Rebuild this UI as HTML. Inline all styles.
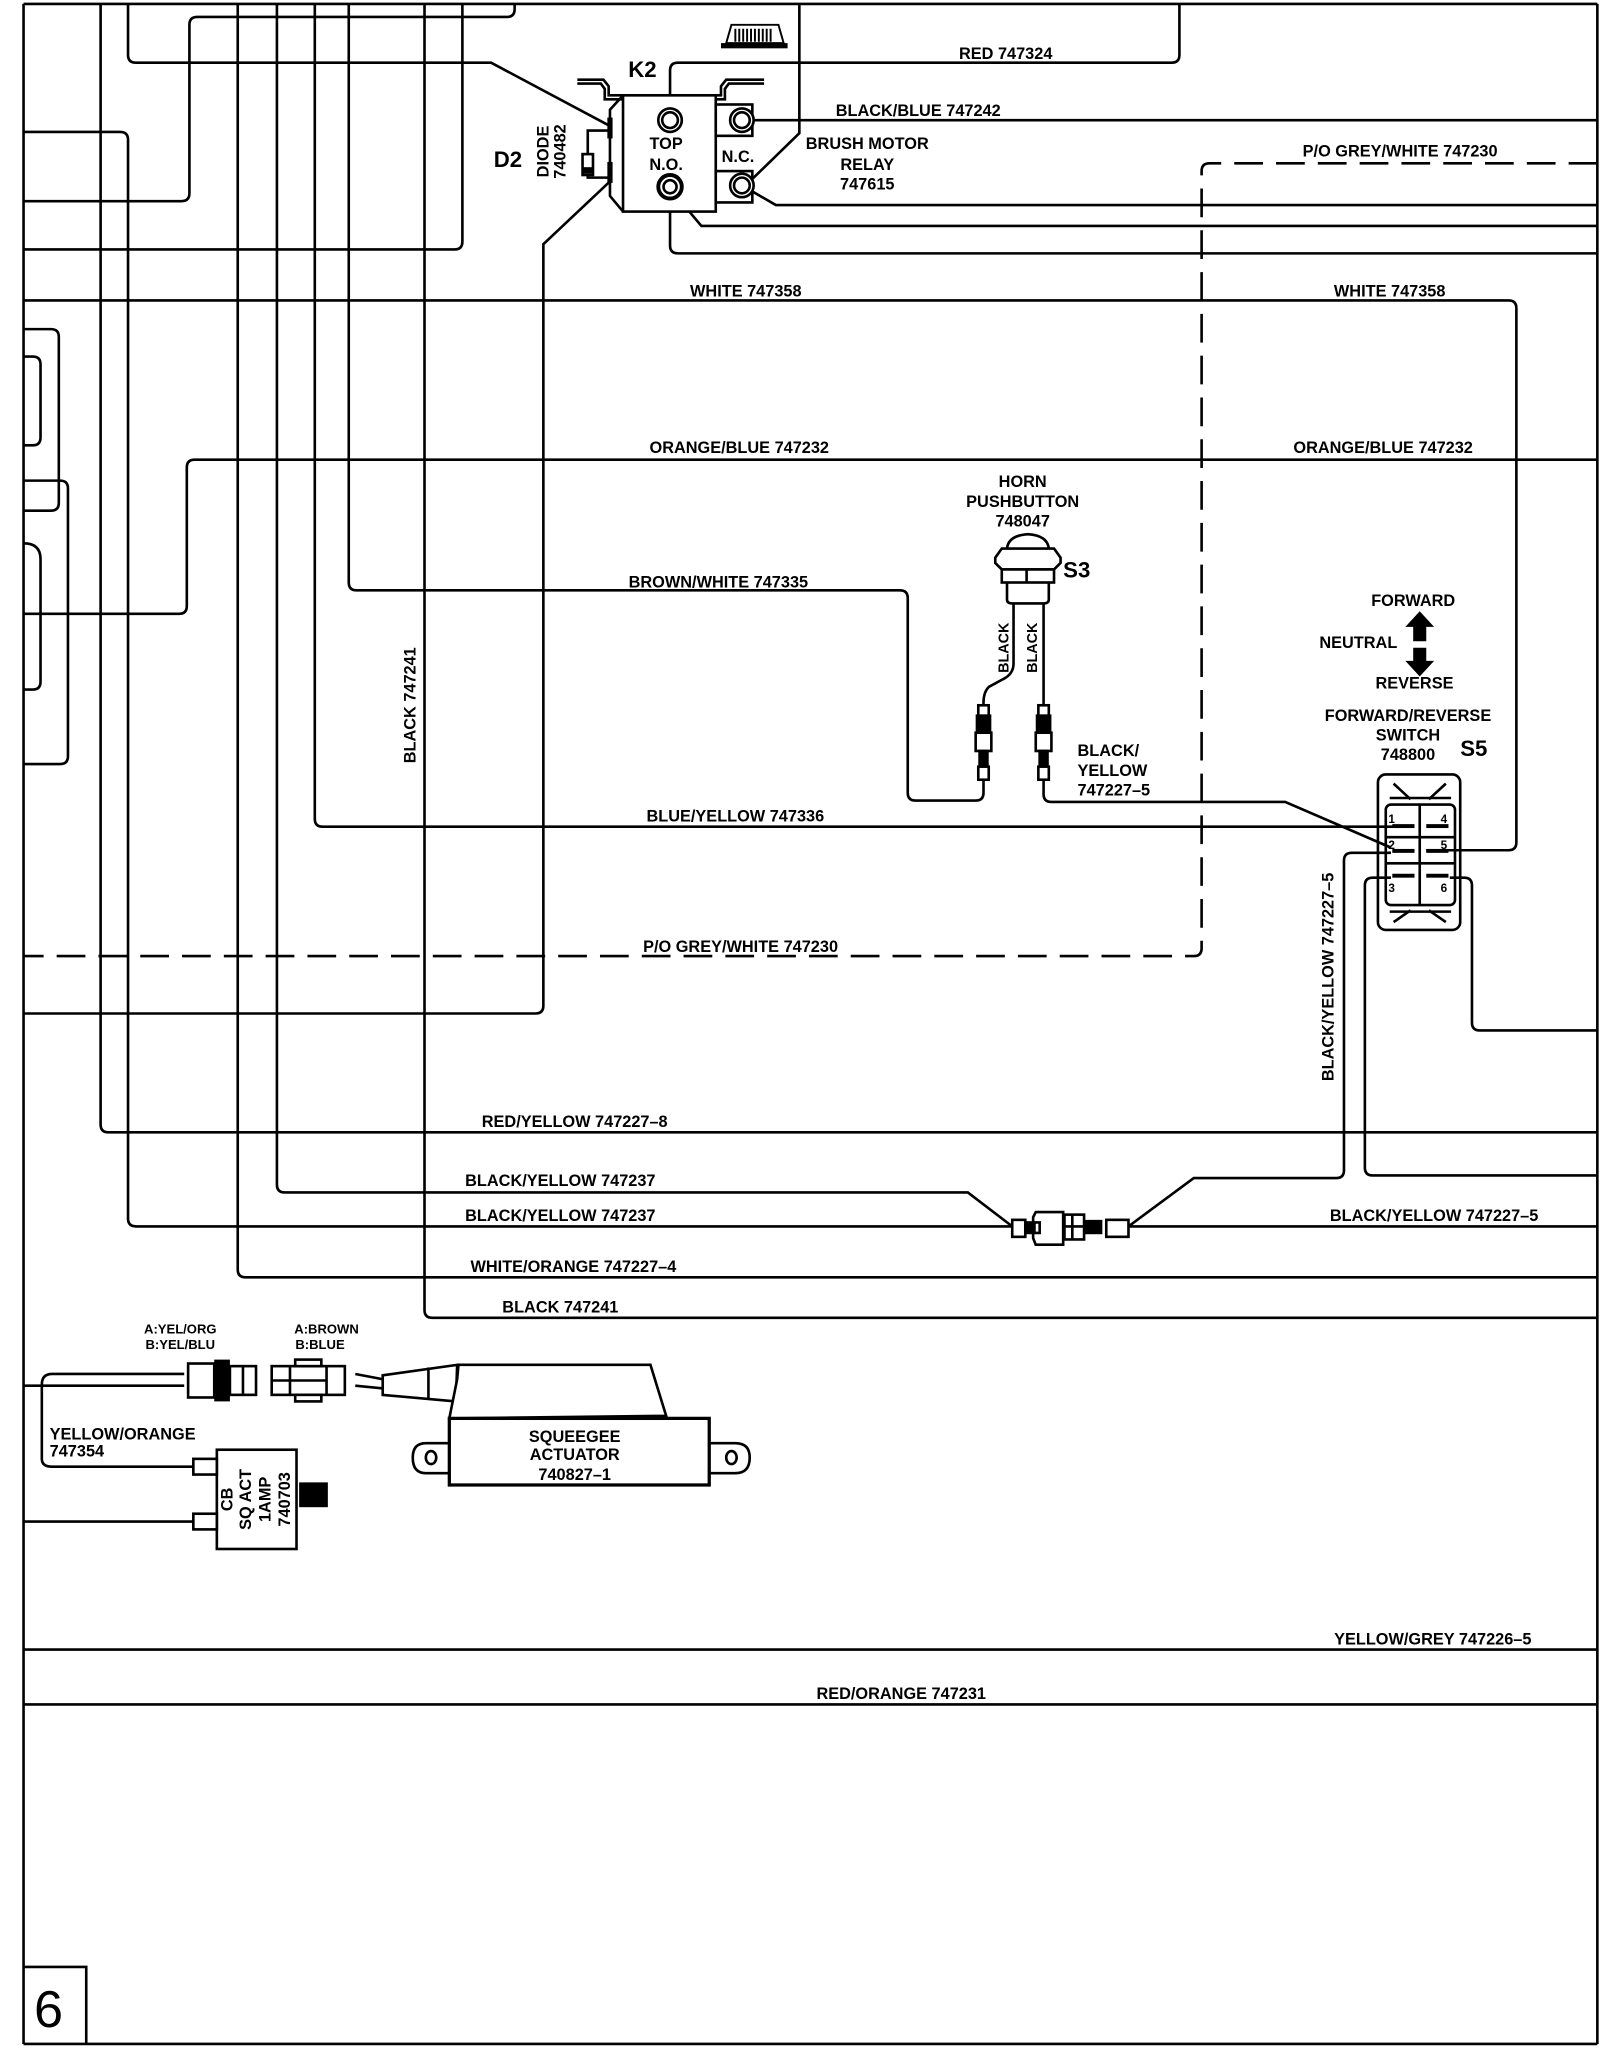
<!DOCTYPE html>
<html><head><meta charset="utf-8"><style>
html,body{margin:0;padding:0;background:#fff}
svg{display:block}
.w{fill:none;stroke:#000;stroke-width:2}
.t{font-family:"Liberation Sans Narrow","Liberation Sans",sans-serif;font-weight:bold;font-size:12.5px;fill:#000}
.m{text-anchor:middle}
.big{font-family:"Liberation Sans",sans-serif;font-weight:bold;font-size:17px}
</style></head><body>
<svg width="1600" height="2059" viewBox="0 0 1225 1576.5" xmlns="http://www.w3.org/2000/svg">
<rect width="1225" height="1577" fill="#fff"/>
<g class="w">
<path d="M18,3 H1223 M18,3 V1565 M1223,3 V1565 M18,1565 H1223"/>
<path d="M18,1506 H66 V1565"/>
<path d="M77,3 V861 Q77,867 83,867 H1223"/>
<path d="M98,3 V42 Q98,48 104,48 H376 L468,97"/>
<path d="M18,101 H92 Q98,101 98,107 V933 Q98,939 104,939 H775"/>
<path d="M18,154 H139 Q145,154 145,148 V19 Q145,13 151,13 H388 Q394,13 394,7 V3"/>
<path d="M182,3 V972 Q182,978 188,978 H1223"/>
<path d="M212,3 V907 Q212,913 218,913 H741 L775,939"/>
<path d="M241,3 V627 Q241,633 247,633 H1067"/>
<path d="M267,3 V446 Q267,452 273,452 H689 Q695,452 695,458 V607 Q695,613 701,613 H747 Q753,613 753,607 V597"/>
<path d="M325,3 V1003 Q325,1009 331,1009 H1223"/>
<path d="M354,3 V185 Q354,191 348,191 H18"/>
<path d="M468,138 L416,187 V770 Q416,776 410,776 H18"/>
<path d="M513,83 V54 Q513,48 519,48 H897 Q903,48 903,42 V3"/>
<path d="M577,92 H1223"/>
<path d="M612,3 V102 L575,138"/>
<path d="M575,146 L594,157 H1223"/>
<path d="M516,148 L537,173 H1223"/>
<path d="M513,150 V188 Q513,194 519,194 H1223"/>
<path d="M1223,125 H926 Q920,125 920,131 V726 Q920,732 914,732 H18" stroke-dasharray="22,10"/>
<path d="M18,230 H1155 Q1161,230 1161,236 V645 Q1161,651 1155,651 H1092"/>
<path d="M1223,352 H149 Q143,352 143,358 V464 Q143,470 137,470 H18"/>
<path d="M18,252 H39 Q45,252 45,258 V385 Q45,391 39,391 H18"/>
<path d="M18,273 H25 Q31,273 31,279 V335 Q31,341 25,341 H18"/>
<path d="M18,368 H46 Q52,368 52,374 V579 Q52,585 46,585 H18"/>
<path d="M18,416 Q31,416 31,428 V522 Q31,528 25,528 H18"/>
<path d="M799,597 V608 Q799,614 805,614 H984 L1065,649"/>
<path d="M1065,653 H1035 Q1029,653 1029,659 V896 Q1029,902 1023,902 H914 L864,939 H1223"/>
<path d="M1065,672 H1051 Q1045,672 1045,678 V894 Q1045,900 1051,900 H1223"/>
<path d="M1110,672 H1121 Q1127,672 1127,678 V783 Q1127,789 1133,789 H1223"/>
<path d="M18,1263 H1223 M18,1305 H1223"/>
<path d="M18,1061 H141"/>
<path d="M141,1052 H40 Q32,1052 32,1060 V1117 Q32,1123 40,1123 H148"/>
<path d="M18,1165 H148"/>
<path d="M776,462 V508 Q776,516 768,520 L757,526 Q753,530 753,538 V540"/>
<path d="M799,462 V540"/>
</g>
<!-- Relay K2 -->
<g class="w" stroke-width="1.6">
<path d="M442,61 H462 L466,66 V73 H552 V66 L556,61 H585"/>
<path d="M442,64 H460 L463,68 V76 H555 V68 L558,64 H585"/>
<rect x="477" y="73" width="71" height="89" fill="#fff"/>
<path d="M477,73 L467,84 V150 L477,162"/>
<path d="M467,100 H450 V136 H467"/>
<rect x="446" y="118" width="8" height="16" fill="#fff"/>
<rect x="548" y="80" width="28" height="24" fill="#fff"/>
<rect x="548" y="131" width="28" height="24" fill="#fff"/>
<circle cx="513" cy="92" r="9" fill="#fff"/><circle cx="513" cy="92" r="6"/>
<circle cx="513" cy="143" r="9" stroke-width="3" fill="#fff"/><circle cx="513" cy="143" r="5"/>
<circle cx="568" cy="92" r="9" fill="#fff"/><circle cx="568" cy="92" r="6"/>
<circle cx="568" cy="142" r="9" fill="#fff"/><circle cx="568" cy="142" r="6"/>
</g>
<rect x="446" y="128" width="8" height="5" fill="#000"/>
<rect x="465" y="90" width="4" height="16" fill="#000"/>
<rect x="465" y="124" width="4" height="16" fill="#000"/>
<!-- brush icon -->
<g>
<rect x="552" y="33" width="51" height="4" fill="#000"/>
<path d="M556,33 L560,19 H596 L600,33 Z" fill="#fff" stroke="#000" stroke-width="1.5"/>
<path d="M563,22 V32 M566,22 V32 M569,22 V32 M572,22 V32 M575,22 V32 M578,22 V32 M581,22 V32 M584,22 V32 M587,22 V32 M590,22 V32" stroke="#000" stroke-width="1.5"/>
</g>
<!-- horn pushbutton -->
<g class="w" stroke-width="1.6">
<path d="M771,420 Q772,410 787,409 Q802,410 803,420"/>
<path d="M767,420 H807 L812,427 V431 L807,436 H767 L762,431 V427 Z" fill="#fff"/>
<rect x="767" y="436" width="40" height="10" fill="#fff"/>
<path d="M786,436 V446"/>
<path d="M771,446 V459 Q771,462 775,462 H799 Q803,462 803,459 V446"/>
<g transform="translate(753,0)"><rect x="-4" y="540" width="8" height="8" fill="#fff"/><rect x="-5" y="548" width="10" height="13" fill="#000"/><rect x="-6" y="561" width="12" height="14" fill="#fff"/><rect x="-3" y="575" width="6" height="12" fill="#000"/><rect x="-4" y="587" width="8" height="10" fill="#fff"/></g>
<g transform="translate(799,0)"><rect x="-4" y="540" width="8" height="8" fill="#fff"/><rect x="-5" y="548" width="10" height="13" fill="#000"/><rect x="-6" y="561" width="12" height="14" fill="#fff"/><rect x="-3" y="575" width="6" height="12" fill="#000"/><rect x="-4" y="587" width="8" height="10" fill="#fff"/></g>
</g>
<!-- switch S5 -->
<g class="w" stroke-width="1.6">
<rect x="1055" y="593" width="63" height="119" rx="6"/>
<rect x="1061" y="616" width="53" height="77" rx="4"/>
<path d="M1064,611 H1111 M1064,698 H1111"/>
<path d="M1087,616 V693 M1061,641 H1114 M1061,661 H1114"/>
<path d="M1067,600 L1080,612 M1107,600 L1094,612 M1067,706 L1080,697 M1107,706 L1094,697"/>
</g>
<g fill="#000">
<rect x="1066" y="631" width="17" height="3"/><rect x="1092" y="631" width="17" height="3"/>
<rect x="1066" y="650" width="17" height="3"/><rect x="1092" y="650" width="17" height="3"/>
<rect x="1066" y="669" width="17" height="3"/><rect x="1092" y="669" width="17" height="3"/>
<path d="M1087,468 L1098,480 H1092 V491 H1082 V480 H1076 Z"/>
<path d="M1082,496 H1092 V506 H1098 L1087,518 L1076,506 H1082 Z"/>
</g>
<!-- connector center -->
<g class="w" stroke-width="1.5">
<rect x="775" y="934" width="10" height="13" fill="#fff"/>
<rect x="785" y="936" width="7" height="8" fill="#000"/>
<path d="M793,928 H814 V953 H793 L791,948 V944 L796,944 V936 L791,936 V932 Z" fill="#fff"/>
<rect x="815" y="930" width="15" height="19" fill="#fff"/>
<path d="M821,930 V949 M815,939 H830"/>
<rect x="831" y="935" width="12" height="9" fill="#000"/>
<rect x="847" y="934" width="17" height="13" fill="#fff"/>
</g>
<!-- squeegee section -->
<g class="w" stroke-width="1.6">
<rect x="144" y="1044" width="20" height="26" fill="#fff"/>
<rect x="165" y="1042" width="10" height="30" fill="#000"/>
<rect x="176" y="1046" width="20" height="22" fill="#fff"/>
<path d="M186,1046 V1068"/>
<rect x="208" y="1046" width="56" height="22" fill="#fff"/>
<path d="M222,1046 V1068 M208,1057 H250 M250,1046 V1068"/>
<rect x="226" y="1041" width="20" height="5" fill="#fff"/><rect x="226" y="1068" width="20" height="5" fill="#fff"/>
<path d="M272,1052 L293,1056 M272,1061 L293,1063"/>
<path d="M293,1053 L350,1045 L349,1073 L293,1068 Z" fill="#fff"/>
<path d="M328,1047 V1071"/>
<path d="M350,1056 L351,1045 H498 L510,1084 L344,1086 Z" fill="#fff"/>
<rect x="344" y="1086" width="199" height="51" fill="#fff" stroke-width="2.5"/>
<path d="M345,1105 H326 Q316,1105 316,1116 Q316,1128 326,1128 H345"/>
<ellipse cx="330" cy="1116" rx="4" ry="5"/>
<path d="M543,1105 H563 Q574,1105 574,1116 Q574,1128 563,1128 H543"/>
<ellipse cx="560" cy="1116" rx="4" ry="5"/>
<rect x="166" y="1110" width="61" height="76" fill="#fff"/>
<rect x="148" y="1117" width="18" height="12" fill="#fff"/>
<rect x="148" y="1159" width="18" height="12" fill="#fff"/>
</g>
<rect x="229" y="1135" width="22" height="19" fill="#000"/>
<!-- labels -->
<g class="t">
<text class="m" x="770" y="45">RED  747324</text>
<text class="m" x="703" y="89">BLACK/BLUE  747242</text>
<text class="m" x="1072" y="120">P/O  GREY/WHITE  747230</text>
<text class="m" x="567" y="729">P/O  GREY/WHITE  747230</text>
<text class="m" x="571" y="227">WHITE  747358</text>
<text class="m" x="1064" y="227">WHITE  747358</text>
<text class="m" x="566" y="347">ORANGE/BLUE  747232</text>
<text class="m" x="1059" y="347">ORANGE/BLUE  747232</text>
<text class="m" x="550" y="450">BROWN/WHITE  747335</text>
<text class="m" x="563" y="629">BLUE/YELLOW  747336</text>
<text class="m" x="440" y="863">RED/YELLOW  747227–8</text>
<text class="m" x="429" y="908">BLACK/YELLOW  747237</text>
<text class="m" x="429" y="935">BLACK/YELLOW  747237</text>
<text class="m" x="439" y="974">WHITE/ORANGE  747227–4</text>
<text class="m" x="429" y="1005">BLACK  747241</text>
<text class="m" x="1098" y="935">BLACK/YELLOW  747227–5</text>
<text class="m" x="1097" y="1259">YELLOW/GREY  747226–5</text>
<text class="m" x="690" y="1301">RED/ORANGE  747231</text>
<text class="m" transform="translate(318,540) rotate(-90)">BLACK  747241</text>
<text class="m" transform="translate(1021,748) rotate(-90)">BLACK/YELLOW  747227–5</text>
<text class="m" x="510" y="114">TOP</text>
<text class="m" x="510" y="130">N.O.</text>
<text class="m" x="565" y="124">N.C.</text>
<text class="m" x="664" y="114">BRUSH  MOTOR</text>
<text class="m" x="664" y="130">RELAY</text>
<text class="m" x="664" y="145">747615</text>
<text class="m" transform="translate(420,116) rotate(-90)">DIODE</text>
<text class="m" transform="translate(433,116) rotate(-90)">740482</text>
<text class="m" x="783" y="373">HORN</text>
<text class="m" x="783" y="388">PUSHBUTTON</text>
<text class="m" x="783" y="403">748047</text>
<text class="m" transform="translate(772,496) rotate(-90)" font-size="11">BLACK</text>
<text class="m" transform="translate(794,496) rotate(-90)" font-size="11">BLACK</text>
<text x="825" y="579">BLACK/</text>
<text x="825" y="594">YELLOW</text>
<text x="825" y="609">747227–5</text>
<text class="m" x="1082" y="464">FORWARD</text>
<text class="m" x="1040" y="496">NEUTRAL</text>
<text class="m" x="1083" y="527">REVERSE</text>
<text class="m" x="1078" y="552">FORWARD/REVERSE</text>
<text class="m" x="1078" y="567">SWITCH</text>
<text class="m" x="1078" y="582">748800</text>
<g font-size="9"><text x="1063" y="630">1</text><text x="1103" y="630">4</text><text x="1063" y="650">2</text><text x="1103" y="650">5</text><text x="1063" y="683">3</text><text x="1103" y="683">6</text></g>
<g font-size="10"><text class="m" x="138" y="1021">A:YEL/ORG</text><text class="m" x="138" y="1033">B:YEL/BLU</text>
<text class="m" x="250" y="1021">A:BROWN</text><text class="m" x="245" y="1033">B:BLUE</text></g>
<text x="38" y="1102">YELLOW/ORANGE</text>
<text x="38" y="1115">747354</text>
<text class="m" x="440" y="1104">SQUEEGEE</text>
<text class="m" x="440" y="1118">ACTUATOR</text>
<text class="m" x="440" y="1133">740827–1</text>
<text class="m" transform="translate(178,1148) rotate(-90)">CB</text>
<text class="m" transform="translate(192,1148) rotate(-90)">SQ  ACT</text>
<text class="m" transform="translate(207,1148) rotate(-90)">1AMP</text>
<text class="m" transform="translate(222,1148) rotate(-90)">740703</text>
</g>
<g class="t big">
<text x="481" y="59">K2</text>
<text x="378" y="128">D2</text>
<text x="814" y="442">S3</text>
<text x="1118" y="579">S5</text>
</g>
<text x="26" y="1552" font-family="Liberation Sans,sans-serif" font-size="40">6</text>
</svg>
</body></html>
